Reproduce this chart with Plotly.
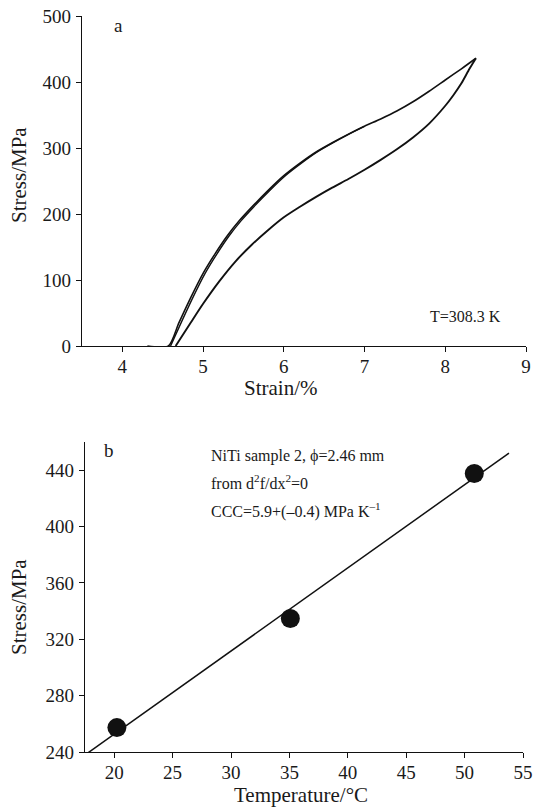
import plotly.graph_objects as go

# ---------------- Panel a: stress-strain hysteresis (T = 308.3 K) ----------------
load1_strain = [4.31, 4.57, 4.70, 4.85, 5.00, 5.15, 5.30, 5.45, 5.60, 5.80, 6.00, 6.20, 6.40,
                6.60, 6.80, 7.00, 7.20, 7.40, 7.60, 7.80, 8.00, 8.20, 8.38]
load1_stress = [0, 0, 35, 74, 110, 140, 167, 190, 210, 235, 258, 277, 294,
                308, 321, 333, 344, 356, 370, 386, 403, 420, 436]

load2_strain = [4.597, 4.727, 4.876, 5.025, 5.174, 5.323, 5.472, 5.621, 5.820, 6.019, 6.218,
                6.415, 6.612, 6.808, 7.00]
load2_stress = [0, 35, 74, 110, 140, 167, 190, 210, 235, 258, 277,
                294, 308, 321, 333]

unload_strain = [8.38, 8.30, 8.20, 8.10, 8.00, 7.80, 7.60, 7.40, 7.20, 7.00, 6.80, 6.60, 6.40,
                 6.20, 6.00, 5.80, 5.60, 5.40, 5.20, 5.00, 4.85, 4.66]
unload_stress = [436, 420, 398, 380, 364, 337, 316, 298, 282, 267, 253, 240, 226,
                 211, 195, 175, 153, 128, 98, 64, 36, 0]

a_xticks = [4, 5, 6, 7, 8, 9]
a_yticks = [0, 100, 200, 300, 400, 500]

# ---------------- Panel b: critical stress vs temperature ----------------
temp_c = [20.23, 35.08, 50.83]
stress_crit = [257.3, 334.7, 437.6]
fit_temp = [17.5, 53.8]
fit_stress = [237.9, 452.1]

b_xticks = [20, 25, 30, 35, 40, 45, 50, 55]
b_yticks = [240, 280, 320, 360, 400, 440]

W, H = 533, 807
FONT = "Liberation Serif"
TXT = "#1a1a1a"
INK = "#111111"


def px_x(p):
    return p / W


def px_y(p):
    return 1 - p / H


fig = go.Figure()

fig.add_trace(go.Scatter(x=load1_strain, y=load1_stress, mode="lines",
                         line=dict(color=INK, width=1.6, shape="spline", smoothing=0.7),
                         xaxis="x", yaxis="y", showlegend=False))
fig.add_trace(go.Scatter(x=load2_strain, y=load2_stress, mode="lines",
                         line=dict(color=INK, width=1.4, shape="spline", smoothing=0.7),
                         xaxis="x", yaxis="y", showlegend=False))
fig.add_trace(go.Scatter(x=unload_strain, y=unload_stress, mode="lines",
                         line=dict(color=INK, width=1.9, shape="spline", smoothing=0.7),
                         xaxis="x", yaxis="y", showlegend=False))

fig.add_trace(go.Scatter(x=fit_temp, y=fit_stress, mode="lines",
                         line=dict(color=INK, width=1.5),
                         xaxis="x2", yaxis="y2", showlegend=False))
fig.add_trace(go.Scatter(x=temp_c, y=stress_crit, mode="markers",
                         marker=dict(color=INK, size=19),
                         xaxis="x2", yaxis="y2", showlegend=False, cliponaxis=False))

axis_common = dict(showgrid=False, zeroline=False, showline=True, linecolor=INK,
                   linewidth=1.2, ticks="outside", ticklen=5, tickwidth=1.1,
                   tickcolor=INK, automargin=False, ticklabeloverflow="allow",
                   tickfont=dict(family=FONT, size=19, color=TXT))

fig.update_layout(
    width=W, height=H, template="none",
    margin=dict(l=0, r=0, t=0, b=0),
    paper_bgcolor="white", plot_bgcolor="white",
    showlegend=False,
    xaxis=dict(axis_common, domain=[px_x(82), px_x(526)], range=[3.5, 9],
               tickvals=a_xticks, anchor="y", ticklabelstandoff=-2),
    yaxis=dict(axis_common, domain=[px_y(346), px_y(16)], range=[0, 500],
               tickvals=a_yticks, anchor="x", ticklabelstandoff=1),
    xaxis2=dict(axis_common, domain=[px_x(85), px_x(523)], range=[17.5, 55],
                tickvals=b_xticks, anchor="y2", ticklabelstandoff=-2),
    yaxis2=dict(axis_common, domain=[px_y(752), px_y(442)], range=[240, 460],
                tickvals=b_yticks, anchor="x2", ticklabelstandoff=1),
)

ann_font = dict(family=FONT, size=16, color=TXT)
title_font = dict(family=FONT, size=21, color=TXT)
annotations = [
    dict(text="a", x=px_x(118), y=px_y(25), font=dict(family=FONT, size=19, color=TXT)),
    dict(text="T=308.3 K", x=px_x(465.8), y=px_y(316.7), font=ann_font),
    dict(text="b", x=px_x(109), y=px_y(450), font=dict(family=FONT, size=19, color=TXT)),
    # axis titles
    dict(text="Strain/%", x=px_x(281), y=px_y(388), font=title_font),
    dict(text="Stress/MPa", x=px_x(19), y=px_y(175), font=title_font, textangle=-90),
    dict(text="Temperature/°C", x=px_x(301), y=px_y(795), font=title_font),
    dict(text="Stress/MPa", x=px_x(19), y=px_y(607), font=title_font, textangle=-90),
]
for a in annotations:
    a.update(xref="paper", yref="paper", showarrow=False, xanchor="center", yanchor="middle")

left_lines = [
    ("NiTi sample 2, ϕ=2.46 mm", 456),
    ("from d<sup>2</sup>f/dx<sup>2</sup>=0", 482),
    ("CCC=5.9+(–0.4) MPa K<sup>–1</sup>", 510),
]
for txt, yy in left_lines:
    annotations.append(dict(text=txt, x=px_x(209), y=px_y(yy), xref="paper", yref="paper",
                            showarrow=False, xanchor="left", yanchor="middle", font=ann_font))

fig.update_layout(annotations=annotations)

# Remove the default 8 px page margin so the figure fills the window exactly.
fig.write_html("out.html",
               config={"displayModeBar": False},
               post_script="document.body.style.margin='0';document.body.style.padding='0';")
